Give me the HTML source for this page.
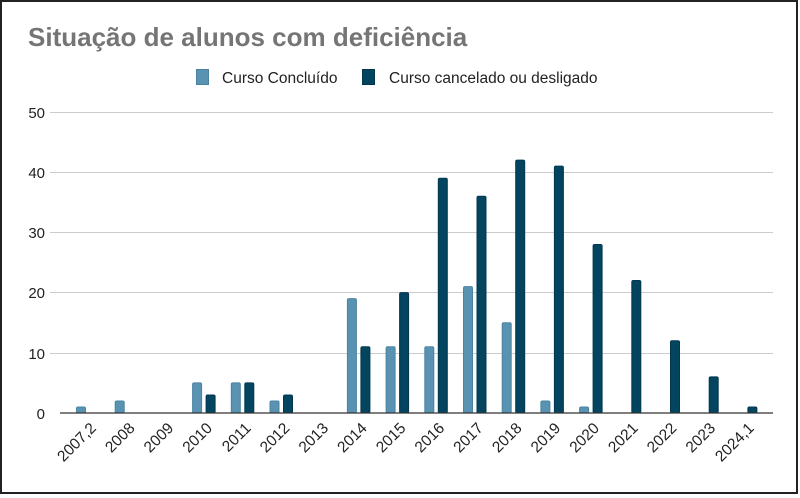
<!DOCTYPE html>
<html><head><meta charset="utf-8"><style>
body{margin:0;background:#fff}
svg{display:block;font-family:"Liberation Sans",Arial,sans-serif}
</style></head><body>
<svg width="800" height="498" viewBox="0 0 800 498" xmlns="http://www.w3.org/2000/svg">
<rect x="0" y="0" width="800" height="498" fill="#fff"/>
<rect x="1" y="1" width="796" height="492" fill="none" stroke="#222" stroke-width="2"/>
<text x="28" y="46" font-size="26" font-weight="bold" fill="#757575">Situação de alunos com deficiência</text>
<rect x="196.5" y="69.5" width="12" height="15" fill="#5a93b2" stroke="#4a83a2"/>
<text x="222" y="83" font-size="15.5" fill="#222">Curso Concluído</text>
<rect x="362.5" y="69.5" width="12" height="15" fill="#03445f" stroke="#023850"/>
<text x="389" y="83" font-size="15.5" fill="#222">Curso cancelado ou desligado</text>
<g stroke="#cccccc" stroke-width="1">
<line x1="50" x2="773" y1="112.5" y2="112.5"/>
<line x1="50" x2="773" y1="172.5" y2="172.5"/>
<line x1="50" x2="773" y1="232.5" y2="232.5"/>
<line x1="50" x2="773" y1="292.5" y2="292.5"/>
<line x1="50" x2="773" y1="353.5" y2="353.5"/>
</g>
<g font-size="15" fill="#222" text-anchor="end">
<text x="45" y="118">50</text><text x="45" y="178">40</text><text x="45" y="238">30</text>
<text x="45" y="298">20</text><text x="45" y="359">10</text><text x="45" y="419">0</text>
</g>
<g id="bars"></g>
<line x1="60" x2="773" y1="413" y2="413" stroke="#333" stroke-width="1.2"/>
<g id="labels" font-size="15.5" fill="#222" text-anchor="end"></g>
<script>
var L=[1,2,0,5,5,2,0,19,11,11,21,15,2,1,0,0,0,0];
var D=[0,0,0,3,5,3,0,11,20,39,36,42,41,28,22,12,6,1];
var N=["2007,2","2008","2009","2010","2011","2012","2013","2014","2015","2016","2017","2018","2019","2020","2021","2022","2023","2024,1"];
var ns="http://www.w3.org/2000/svg",b=document.getElementById("bars"),lb=document.getElementById("labels");
function bar(x,v,c,s){if(!v)return;var h=v*6.02,r=document.createElementNS(ns,"rect");
r.setAttribute("x",x+0.5);r.setAttribute("y",413-h);r.setAttribute("width",9);r.setAttribute("height",h);
r.setAttribute("rx",1.5);r.setAttribute("fill",c);r.setAttribute("stroke",s);b.appendChild(r);}
for(var i=0;i<18;i++){var x=76+38.7*i;bar(x,L[i],"#5a93b2","#4a83a2");bar(x+13.5,D[i],"#03445f","#023850");
var t=document.createElementNS(ns,"text"),cx=x+16;t.setAttribute("transform","translate("+(cx+5)+",429) rotate(-45)");
t.textContent=N[i];lb.appendChild(t);}
</script>
</svg>
</body></html>
